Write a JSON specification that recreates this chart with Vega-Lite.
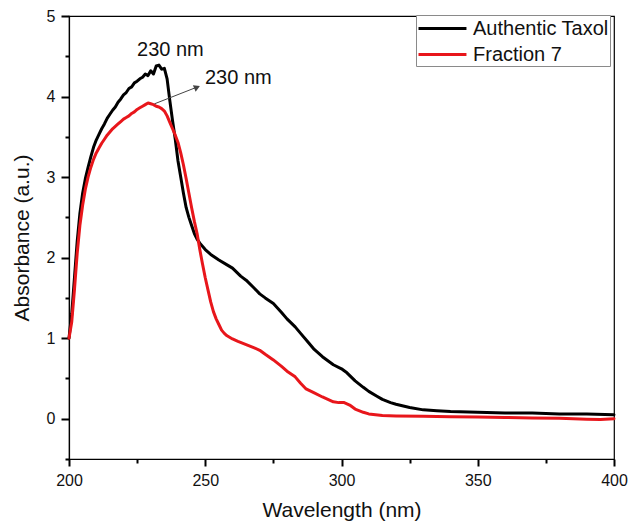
{
  "$schema": "https://vega.github.io/schema/vega-lite/v6.json",
  "width": 545,
  "height": 443,
  "autosize": {"type": "none"},
  "padding": {"left": 69, "top": 16, "right": 15, "bottom": 64},
  "background": "white",
  "config": {
    "font": "Liberation Sans",
    "view": {"stroke": "black", "strokeWidth": 1.2},
    "axis": {
      "grid": false,
      "ticks": true,
      "zindex": 1,
      "domainColor": "black",
      "domainWidth": 1.2,
      "tickColor": "black",
      "tickWidth": 2,
      "tickRound": true,
      "labelColor": "#111",
      "labelFont": "Liberation Sans",
      "labelFontSize": 16,
      "titleFont": "Liberation Sans",
      "titleFontSize": 21,
      "titleFontWeight": "normal",
      "titleColor": "#111"
    }
  },
  "resolve": {"axis": {"x": "independent", "y": "independent"}},
  "datasets": {
    "spectra": [
      {"series": "Authentic Taxol", "wavelength": 200, "absorbance": 1.0},
      {"series": "Authentic Taxol", "wavelength": 201, "absorbance": 1.3},
      {"series": "Authentic Taxol", "wavelength": 202, "absorbance": 1.75},
      {"series": "Authentic Taxol", "wavelength": 203, "absorbance": 2.2},
      {"series": "Authentic Taxol", "wavelength": 204, "absorbance": 2.55},
      {"series": "Authentic Taxol", "wavelength": 205, "absorbance": 2.8},
      {"series": "Authentic Taxol", "wavelength": 206, "absorbance": 2.98},
      {"series": "Authentic Taxol", "wavelength": 207, "absorbance": 3.12},
      {"series": "Authentic Taxol", "wavelength": 208, "absorbance": 3.25},
      {"series": "Authentic Taxol", "wavelength": 209, "absorbance": 3.37},
      {"series": "Authentic Taxol", "wavelength": 210, "absorbance": 3.46},
      {"series": "Authentic Taxol", "wavelength": 211, "absorbance": 3.53},
      {"series": "Authentic Taxol", "wavelength": 212, "absorbance": 3.6},
      {"series": "Authentic Taxol", "wavelength": 213, "absorbance": 3.66},
      {"series": "Authentic Taxol", "wavelength": 214, "absorbance": 3.73},
      {"series": "Authentic Taxol", "wavelength": 215, "absorbance": 3.78},
      {"series": "Authentic Taxol", "wavelength": 216, "absorbance": 3.83},
      {"series": "Authentic Taxol", "wavelength": 217, "absorbance": 3.87},
      {"series": "Authentic Taxol", "wavelength": 218, "absorbance": 3.93},
      {"series": "Authentic Taxol", "wavelength": 219, "absorbance": 3.97},
      {"series": "Authentic Taxol", "wavelength": 220, "absorbance": 4.02},
      {"series": "Authentic Taxol", "wavelength": 221, "absorbance": 4.05},
      {"series": "Authentic Taxol", "wavelength": 222, "absorbance": 4.1},
      {"series": "Authentic Taxol", "wavelength": 223, "absorbance": 4.12},
      {"series": "Authentic Taxol", "wavelength": 224, "absorbance": 4.17},
      {"series": "Authentic Taxol", "wavelength": 225, "absorbance": 4.19},
      {"series": "Authentic Taxol", "wavelength": 226, "absorbance": 4.22},
      {"series": "Authentic Taxol", "wavelength": 227, "absorbance": 4.24},
      {"series": "Authentic Taxol", "wavelength": 228, "absorbance": 4.28},
      {"series": "Authentic Taxol", "wavelength": 229, "absorbance": 4.26},
      {"series": "Authentic Taxol", "wavelength": 230, "absorbance": 4.32},
      {"series": "Authentic Taxol", "wavelength": 231, "absorbance": 4.28},
      {"series": "Authentic Taxol", "wavelength": 232, "absorbance": 4.38},
      {"series": "Authentic Taxol", "wavelength": 233, "absorbance": 4.39},
      {"series": "Authentic Taxol", "wavelength": 234, "absorbance": 4.34},
      {"series": "Authentic Taxol", "wavelength": 235, "absorbance": 4.35},
      {"series": "Authentic Taxol", "wavelength": 236, "absorbance": 4.22},
      {"series": "Authentic Taxol", "wavelength": 237, "absorbance": 3.95},
      {"series": "Authentic Taxol", "wavelength": 238, "absorbance": 3.7},
      {"series": "Authentic Taxol", "wavelength": 239, "absorbance": 3.47},
      {"series": "Authentic Taxol", "wavelength": 240, "absorbance": 3.2},
      {"series": "Authentic Taxol", "wavelength": 241, "absorbance": 3.0},
      {"series": "Authentic Taxol", "wavelength": 242, "absorbance": 2.8},
      {"series": "Authentic Taxol", "wavelength": 243, "absorbance": 2.62},
      {"series": "Authentic Taxol", "wavelength": 244, "absorbance": 2.5},
      {"series": "Authentic Taxol", "wavelength": 245, "absorbance": 2.4},
      {"series": "Authentic Taxol", "wavelength": 246, "absorbance": 2.3},
      {"series": "Authentic Taxol", "wavelength": 247, "absorbance": 2.23},
      {"series": "Authentic Taxol", "wavelength": 248, "absorbance": 2.18},
      {"series": "Authentic Taxol", "wavelength": 250, "absorbance": 2.1},
      {"series": "Authentic Taxol", "wavelength": 252, "absorbance": 2.04},
      {"series": "Authentic Taxol", "wavelength": 255, "absorbance": 1.97},
      {"series": "Authentic Taxol", "wavelength": 258, "absorbance": 1.91},
      {"series": "Authentic Taxol", "wavelength": 260, "absorbance": 1.87},
      {"series": "Authentic Taxol", "wavelength": 263, "absorbance": 1.77},
      {"series": "Authentic Taxol", "wavelength": 265, "absorbance": 1.72},
      {"series": "Authentic Taxol", "wavelength": 268, "absorbance": 1.62},
      {"series": "Authentic Taxol", "wavelength": 270, "absorbance": 1.55},
      {"series": "Authentic Taxol", "wavelength": 272, "absorbance": 1.5},
      {"series": "Authentic Taxol", "wavelength": 275, "absorbance": 1.43},
      {"series": "Authentic Taxol", "wavelength": 278, "absorbance": 1.32},
      {"series": "Authentic Taxol", "wavelength": 280, "absorbance": 1.24},
      {"series": "Authentic Taxol", "wavelength": 283, "absorbance": 1.14},
      {"series": "Authentic Taxol", "wavelength": 285, "absorbance": 1.06},
      {"series": "Authentic Taxol", "wavelength": 288, "absorbance": 0.94},
      {"series": "Authentic Taxol", "wavelength": 290, "absorbance": 0.86},
      {"series": "Authentic Taxol", "wavelength": 293, "absorbance": 0.77},
      {"series": "Authentic Taxol", "wavelength": 295, "absorbance": 0.72},
      {"series": "Authentic Taxol", "wavelength": 297, "absorbance": 0.67},
      {"series": "Authentic Taxol", "wavelength": 300, "absorbance": 0.62},
      {"series": "Authentic Taxol", "wavelength": 302, "absorbance": 0.57},
      {"series": "Authentic Taxol", "wavelength": 305, "absorbance": 0.47},
      {"series": "Authentic Taxol", "wavelength": 308, "absorbance": 0.39},
      {"series": "Authentic Taxol", "wavelength": 310, "absorbance": 0.34},
      {"series": "Authentic Taxol", "wavelength": 313, "absorbance": 0.28},
      {"series": "Authentic Taxol", "wavelength": 315, "absorbance": 0.24},
      {"series": "Authentic Taxol", "wavelength": 318, "absorbance": 0.2},
      {"series": "Authentic Taxol", "wavelength": 320, "absorbance": 0.18},
      {"series": "Authentic Taxol", "wavelength": 325, "absorbance": 0.14},
      {"series": "Authentic Taxol", "wavelength": 330, "absorbance": 0.11},
      {"series": "Authentic Taxol", "wavelength": 335, "absorbance": 0.1},
      {"series": "Authentic Taxol", "wavelength": 340, "absorbance": 0.09},
      {"series": "Authentic Taxol", "wavelength": 350, "absorbance": 0.08},
      {"series": "Authentic Taxol", "wavelength": 360, "absorbance": 0.07},
      {"series": "Authentic Taxol", "wavelength": 370, "absorbance": 0.07},
      {"series": "Authentic Taxol", "wavelength": 380, "absorbance": 0.06},
      {"series": "Authentic Taxol", "wavelength": 390, "absorbance": 0.06},
      {"series": "Authentic Taxol", "wavelength": 400, "absorbance": 0.05},
      {"series": "Fraction 7", "wavelength": 200, "absorbance": 1.0},
      {"series": "Fraction 7", "wavelength": 201, "absorbance": 1.2},
      {"series": "Fraction 7", "wavelength": 202, "absorbance": 1.6},
      {"series": "Fraction 7", "wavelength": 203, "absorbance": 2.05},
      {"series": "Fraction 7", "wavelength": 204, "absorbance": 2.4},
      {"series": "Fraction 7", "wavelength": 205, "absorbance": 2.65},
      {"series": "Fraction 7", "wavelength": 206, "absorbance": 2.85},
      {"series": "Fraction 7", "wavelength": 207, "absorbance": 3.0},
      {"series": "Fraction 7", "wavelength": 208, "absorbance": 3.12},
      {"series": "Fraction 7", "wavelength": 209, "absorbance": 3.22},
      {"series": "Fraction 7", "wavelength": 210, "absorbance": 3.3},
      {"series": "Fraction 7", "wavelength": 211, "absorbance": 3.36},
      {"series": "Fraction 7", "wavelength": 212, "absorbance": 3.42},
      {"series": "Fraction 7", "wavelength": 213, "absorbance": 3.47},
      {"series": "Fraction 7", "wavelength": 214, "absorbance": 3.52},
      {"series": "Fraction 7", "wavelength": 215, "absorbance": 3.56},
      {"series": "Fraction 7", "wavelength": 216, "absorbance": 3.6},
      {"series": "Fraction 7", "wavelength": 217, "absorbance": 3.63},
      {"series": "Fraction 7", "wavelength": 218, "absorbance": 3.66},
      {"series": "Fraction 7", "wavelength": 219, "absorbance": 3.69},
      {"series": "Fraction 7", "wavelength": 220, "absorbance": 3.72},
      {"series": "Fraction 7", "wavelength": 221, "absorbance": 3.74},
      {"series": "Fraction 7", "wavelength": 222, "absorbance": 3.76},
      {"series": "Fraction 7", "wavelength": 223, "absorbance": 3.79},
      {"series": "Fraction 7", "wavelength": 224, "absorbance": 3.81},
      {"series": "Fraction 7", "wavelength": 225, "absorbance": 3.84},
      {"series": "Fraction 7", "wavelength": 226, "absorbance": 3.86},
      {"series": "Fraction 7", "wavelength": 227, "absorbance": 3.88},
      {"series": "Fraction 7", "wavelength": 228, "absorbance": 3.9},
      {"series": "Fraction 7", "wavelength": 229, "absorbance": 3.92},
      {"series": "Fraction 7", "wavelength": 230, "absorbance": 3.91},
      {"series": "Fraction 7", "wavelength": 231, "absorbance": 3.9},
      {"series": "Fraction 7", "wavelength": 232, "absorbance": 3.88},
      {"series": "Fraction 7", "wavelength": 233, "absorbance": 3.87},
      {"series": "Fraction 7", "wavelength": 234, "absorbance": 3.85},
      {"series": "Fraction 7", "wavelength": 235, "absorbance": 3.82},
      {"series": "Fraction 7", "wavelength": 236, "absorbance": 3.76},
      {"series": "Fraction 7", "wavelength": 237, "absorbance": 3.68},
      {"series": "Fraction 7", "wavelength": 238, "absorbance": 3.6},
      {"series": "Fraction 7", "wavelength": 239, "absorbance": 3.52},
      {"series": "Fraction 7", "wavelength": 240, "absorbance": 3.43},
      {"series": "Fraction 7", "wavelength": 241, "absorbance": 3.3},
      {"series": "Fraction 7", "wavelength": 242, "absorbance": 3.15},
      {"series": "Fraction 7", "wavelength": 243, "absorbance": 2.98},
      {"series": "Fraction 7", "wavelength": 244, "absorbance": 2.8},
      {"series": "Fraction 7", "wavelength": 245, "absorbance": 2.62},
      {"series": "Fraction 7", "wavelength": 246, "absorbance": 2.45},
      {"series": "Fraction 7", "wavelength": 247, "absorbance": 2.3},
      {"series": "Fraction 7", "wavelength": 248, "absorbance": 2.1},
      {"series": "Fraction 7", "wavelength": 249, "absorbance": 1.92},
      {"series": "Fraction 7", "wavelength": 250, "absorbance": 1.75},
      {"series": "Fraction 7", "wavelength": 251, "absorbance": 1.6},
      {"series": "Fraction 7", "wavelength": 252, "absorbance": 1.45},
      {"series": "Fraction 7", "wavelength": 253, "absorbance": 1.33},
      {"series": "Fraction 7", "wavelength": 254, "absorbance": 1.24},
      {"series": "Fraction 7", "wavelength": 255, "absorbance": 1.17},
      {"series": "Fraction 7", "wavelength": 256, "absorbance": 1.1},
      {"series": "Fraction 7", "wavelength": 257, "absorbance": 1.06},
      {"series": "Fraction 7", "wavelength": 258, "absorbance": 1.03},
      {"series": "Fraction 7", "wavelength": 260, "absorbance": 0.99},
      {"series": "Fraction 7", "wavelength": 262, "absorbance": 0.96},
      {"series": "Fraction 7", "wavelength": 265, "absorbance": 0.92},
      {"series": "Fraction 7", "wavelength": 268, "absorbance": 0.88},
      {"series": "Fraction 7", "wavelength": 270, "absorbance": 0.85},
      {"series": "Fraction 7", "wavelength": 272, "absorbance": 0.8},
      {"series": "Fraction 7", "wavelength": 275, "absorbance": 0.73},
      {"series": "Fraction 7", "wavelength": 278, "absorbance": 0.65},
      {"series": "Fraction 7", "wavelength": 280, "absorbance": 0.59},
      {"series": "Fraction 7", "wavelength": 283, "absorbance": 0.52},
      {"series": "Fraction 7", "wavelength": 285, "absorbance": 0.44},
      {"series": "Fraction 7", "wavelength": 287, "absorbance": 0.37},
      {"series": "Fraction 7", "wavelength": 290, "absorbance": 0.32},
      {"series": "Fraction 7", "wavelength": 293, "absorbance": 0.27},
      {"series": "Fraction 7", "wavelength": 295, "absorbance": 0.24},
      {"series": "Fraction 7", "wavelength": 297, "absorbance": 0.21},
      {"series": "Fraction 7", "wavelength": 299, "absorbance": 0.2},
      {"series": "Fraction 7", "wavelength": 301, "absorbance": 0.2},
      {"series": "Fraction 7", "wavelength": 303, "absorbance": 0.17},
      {"series": "Fraction 7", "wavelength": 305, "absorbance": 0.12},
      {"series": "Fraction 7", "wavelength": 308, "absorbance": 0.08},
      {"series": "Fraction 7", "wavelength": 310, "absorbance": 0.06},
      {"series": "Fraction 7", "wavelength": 315, "absorbance": 0.04},
      {"series": "Fraction 7", "wavelength": 320, "absorbance": 0.035},
      {"series": "Fraction 7", "wavelength": 330, "absorbance": 0.03},
      {"series": "Fraction 7", "wavelength": 340, "absorbance": 0.025},
      {"series": "Fraction 7", "wavelength": 350, "absorbance": 0.02},
      {"series": "Fraction 7", "wavelength": 360, "absorbance": 0.015},
      {"series": "Fraction 7", "wavelength": 370, "absorbance": 0.01},
      {"series": "Fraction 7", "wavelength": 380, "absorbance": 0.005},
      {"series": "Fraction 7", "wavelength": 390, "absorbance": -0.005},
      {"series": "Fraction 7", "wavelength": 395, "absorbance": -0.01},
      {"series": "Fraction 7", "wavelength": 400, "absorbance": 0.0}
    ]
  },
  "layer": [
    {
      "data": {"name": "spectra"},
      "mark": {"type": "line", "strokeWidth": 3, "strokeJoin": "round", "strokeCap": "round"},
      "encoding": {
        "x": {
          "field": "wavelength",
          "type": "quantitative",
          "scale": {"domain": [200, 400], "nice": false, "zero": false},
          "axis": {
            "orient": "bottom",
            "values": [200, 250, 300, 350, 400],
            "format": "d",
            "ticks": true,
            "tickSize": 7,
            "labelPadding": 6,
            "labelFlush": false,
            "title": "Wavelength (nm)",
            "titleX": 272.5,
            "titleY": 51,
            "titleAlign": "center",
            "titleBaseline": "middle"
          }
        },
        "y": {
          "field": "absorbance",
          "type": "quantitative",
          "scale": {"domain": [-0.5, 5], "nice": false, "zero": false},
          "axis": {
            "orient": "left",
            "values": [0, 1, 2, 3, 4, 5],
            "format": "d",
            "ticks": true,
            "tickSize": 8,
            "labelPadding": 6,
            "title": "Absorbance (a.u.)",
            "titleX": -47,
            "titleY": 221.5,
            "titleAlign": "center",
            "titleBaseline": "middle"
          }
        },
        "color": {
          "field": "series",
          "type": "nominal",
          "scale": {"domain": ["Authentic Taxol", "Fraction 7"], "range": ["#000000", "#e8161b"]},
          "legend": {
            "title": null,
            "orient": "none",
            "legendX": 347,
            "legendY": -1,
            "symbolType": "M-1,0H3.36",
            "symbolSize": 484,
            "symbolStrokeWidth": 3,
            "labelFontSize": 20,
            "labelFont": "Liberation Sans",
            "labelColor": "#111",
            "labelOffset": 31,
            "labelExpr": "datum.label === 'Fraction 7' ? '\u00a0Fraction 7' : datum.label",
            "padding": 1,
            "rowPadding": 3,
            "strokeColor": "#8a8a8a",
            "fillColor": "white"
          }
        }
      }
    },
    {
      "data": {"values": [{}]},
      "mark": {"type": "rule", "stroke": "#444", "strokeWidth": 1},
      "encoding": {
        "x": {
          "datum": 231.4,
          "type": "quantitative",
          "axis": {"orient": "bottom", "values": [225, 275, 325, 375], "labels": false, "domain": false, "ticks": true, "tickSize": 4, "title": null}
        },
        "y": {
          "datum": 3.91,
          "type": "quantitative",
          "axis": {"orient": "left", "values": [-0.5, 0.5, 1.5, 2.5, 3.5, 4.5], "labels": false, "domain": false, "ticks": true, "tickSize": 4, "title": null}
        },
        "x2": {"datum": 247.2},
        "y2": {"datum": 4.12}
      }
    },
    {
      "data": {"values": [{}]},
      "mark": {"type": "point", "shape": "triangle-right", "filled": true, "color": "#444", "size": 50, "angle": 336.7, "opacity": 1},
      "encoding": {
        "x": {"datum": 247.0, "type": "quantitative", "axis": null},
        "y": {"datum": 4.115, "type": "quantitative", "axis": null}
      }
    },
    {
      "data": {"values": [{}]},
      "mark": {"type": "text", "text": "230 nm", "font": "Liberation Sans", "fontSize": 20, "color": "#111", "align": "center", "baseline": "middle"},
      "encoding": {
        "x": {"datum": 237.2, "type": "quantitative", "axis": null},
        "y": {"datum": 4.578, "type": "quantitative", "axis": null}
      }
    },
    {
      "data": {"values": [{}]},
      "mark": {"type": "text", "text": "230 nm", "font": "Liberation Sans", "fontSize": 20, "color": "#111", "align": "left", "baseline": "middle"},
      "encoding": {
        "x": {"datum": 249.9, "type": "quantitative", "axis": null},
        "y": {"datum": 4.23, "type": "quantitative", "axis": null}
      }
    }
  ]
}
